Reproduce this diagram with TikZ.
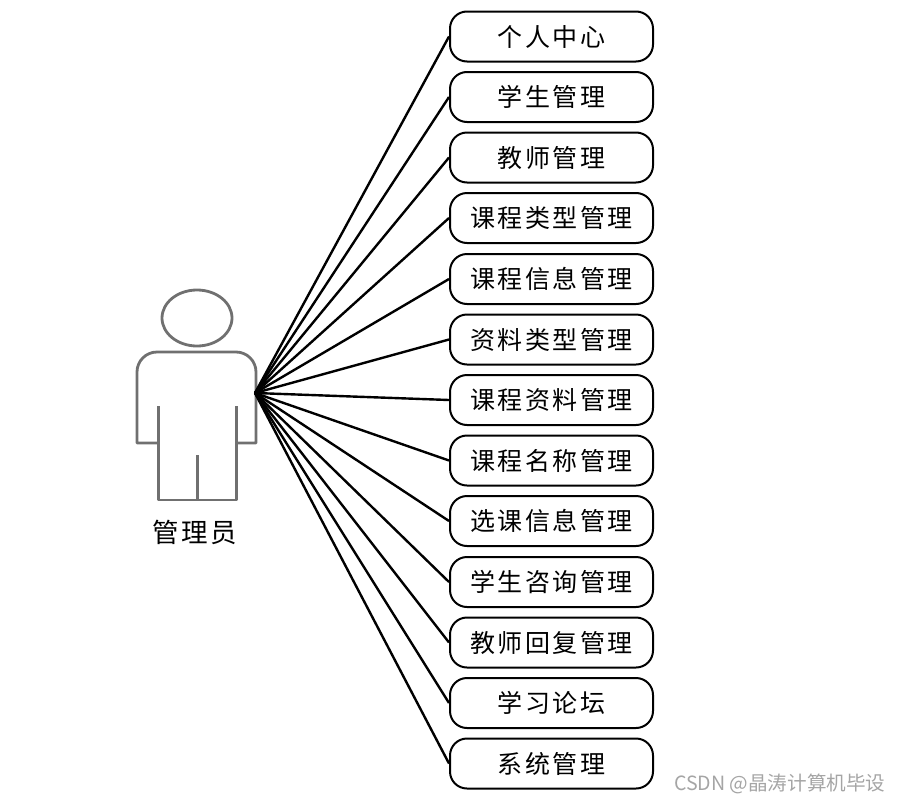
\documentclass[tikz,border=0pt]{standalone}
\usepackage{fontspec}
\setmainfont{Noto Sans CJK SC}[LetterSpace=10]
\newfontfamily\markfont{Noto Sans CJK SC}
\definecolor{figgray}{RGB}{112,112,112}
\definecolor{markgray}{RGB}{165,165,165}
\tikzset{
  usecase/.style={draw=black, line width=2pt, rounded corners=17pt, minimum width=203pt, minimum height=50pt, inner sep=0pt, font=\fontsize{25}{28}\selectfont},
  link/.style={line width=2.4pt, black},
  actor/.style={line width=2.8pt, figgray, line join=round}
}

\begin{document}
\begin{tikzpicture}[x=1pt, y=-1pt]
  \useasboundingbox (0,0) rectangle (901,803);

  % Actor figure
  \draw[actor] (197,318) ellipse (35 and 28);
  \draw[actor, rounded corners=20pt] (158,443) [sharp corners] -- (137,443) [rounded corners=20pt] -- (137,352) -- (256,352) [sharp corners] -- (256,443) -- (236,443);
  \draw[actor] (158.4,406) -- (158.4,500) -- (236.4,500) -- (236.4,406);
  \draw[actor] (197.4,455) -- (197.4,500);
  \node[font=\fontsize{26.5}{30}\selectfont] (admin) at (195,532) {管理员};
  \coordinate (hub) at (255,393);

  % Use cases
  \node[usecase] (center) at (551.5,36.5) {个人中心};
  \node[usecase] (student) at (551.5,97) {学生管理};
  \node[usecase] (teacher) at (551.5,157.5) {教师管理};
  \node[usecase] (coursetype) at (551.5,218) {课程类型管理};
  \node[usecase] (courseinfo) at (551.5,279) {课程信息管理};
  \node[usecase] (datatype) at (551.5,339.5) {资料类型管理};
  \node[usecase] (coursedata) at (551.5,400) {课程资料管理};
  \node[usecase] (coursename) at (551.5,460.5) {课程名称管理};
  \node[usecase] (selection) at (551.5,521) {选课信息管理};
  \node[usecase] (consult) at (551.5,582) {学生咨询管理};
  \node[usecase] (reply) at (551.5,642.5) {教师回复管理};
  \node[usecase] (forum) at (551.5,703) {学习论坛};
  \node[usecase] (system) at (551.5,763.5) {系统管理};

  % Connectors
  \draw[link] (hub) -- (center.west);
  \draw[link] (hub) -- (student.west);
  \draw[link] (hub) -- (teacher.west);
  \draw[link] (hub) -- (coursetype.west);
  \draw[link] (hub) -- (courseinfo.west);
  \draw[link] (hub) -- (datatype.west);
  \draw[link] (hub) -- (coursedata.west);
  \draw[link] (hub) -- (coursename.west);
  \draw[link] (hub) -- (selection.west);
  \draw[link] (hub) -- (consult.west);
  \draw[link] (hub) -- (reply.west);
  \draw[link] (hub) -- (forum.west);
  \draw[link] (hub) -- (system.west);

  % Watermark
  \node[markgray, font=\markfont\fontsize{19.6}{24}\selectfont, anchor=east] (mark) at (889,784) {CSDN @晶涛计算机毕设};
\end{tikzpicture}
\end{document}
